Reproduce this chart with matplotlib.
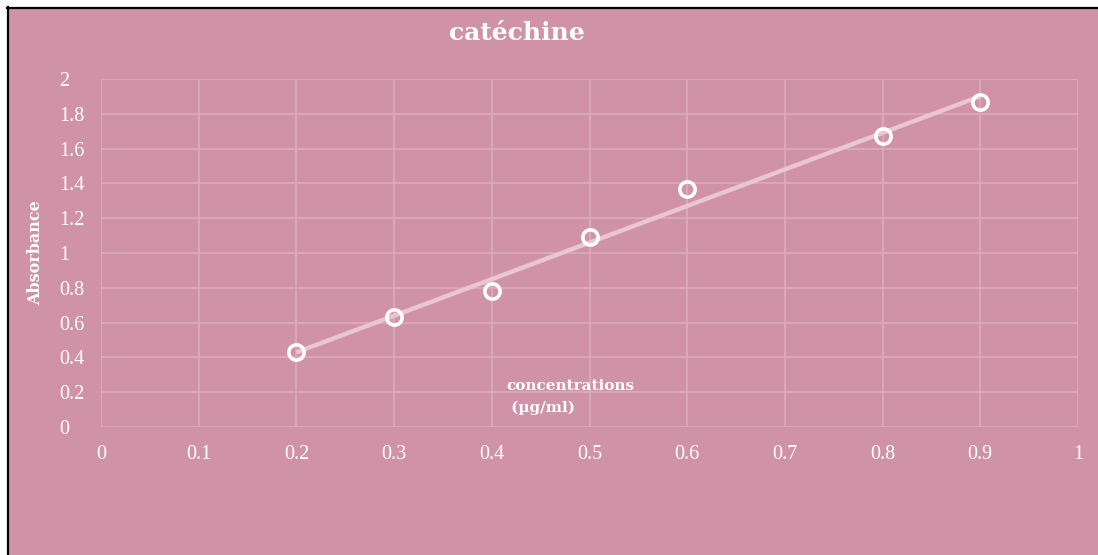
import numpy as np
import matplotlib
matplotlib.use("Agg")
import matplotlib.pyplot as plt
from matplotlib.patches import Rectangle
from matplotlib.lines import Line2D

# Calibration data for catechin
concentrations = [0.2, 0.3, 0.4, 0.5, 0.6, 0.8, 0.9]
absorbance = [0.43, 0.63, 0.78, 1.09, 1.37, 1.67, 1.87]
x_ticks = [0, 0.1, 0.2, 0.3, 0.4, 0.5, 0.6, 0.7, 0.8, 0.9, 1]
y_ticks = [0, 0.2, 0.4, 0.6, 0.8, 1, 1.2, 1.4, 1.6, 1.8, 2]

BG = "#D092A6"
GRID = "#DCACBC"
TREND = "#E9C6D2"
FONT = "Liberation Serif"
LABEL_FONT = "DejaVu Serif"

W, H = 1098, 555
fig = plt.figure(figsize=(W / 100, H / 100), dpi=100, facecolor="white")

# Pink panel with black top/left frame
fig.patches.append(Rectangle((8 / W, 0), 1 - 8 / W, 1 - 8 / H,
                             transform=fig.transFigure, facecolor=BG,
                             edgecolor="none", zorder=-5))
fig.lines.append(Line2D([7.5 / W, 7.5 / W], [0, 1 - 7 / H], transform=fig.transFigure,
                        color="black", lw=1.6, zorder=-4))
fig.lines.append(Line2D([7 / W, 1097 / W], [1 - 7.5 / H, 1 - 7.5 / H], transform=fig.transFigure,
                        color="black", lw=1.6, zorder=-4))

ax = fig.add_axes([101 / W, 128 / H, (1078 - 101) / W, (476 - 128) / H])
ax.set_zorder(2)
ax.set_facecolor("none")
ax.set_xlim(0, 1)
ax.set_ylim(0, 2)
ax.set_xticks(x_ticks)
ax.set_yticks(y_ticks)
ax.set_xticklabels([f"{v:g}" for v in x_ticks])
ax.set_yticklabels([f"{v:g}" for v in y_ticks])
for s in ax.spines.values():
    s.set_visible(False)
ax.grid(True, color=GRID, lw=1.2)
ax.set_axisbelow(True)
ax.tick_params(length=0, colors="white", labelsize=14.5)
ax.tick_params(axis="y", pad=30)
ax.tick_params(axis="x", pad=13)
for lab in ax.get_yticklabels():
    lab.set_horizontalalignment("left")
    lab.set_fontfamily(FONT)
for lab in ax.get_xticklabels():
    lab.set_fontfamily(FONT)

# Linear trendline fitted over the measured range
slope, intercept = np.polyfit(concentrations, absorbance, 1)
xs = np.array([min(concentrations), max(concentrations)])
ax.plot(xs, slope * xs + intercept, color=TREND, lw=3.2, solid_capstyle="butt", zorder=2)

ax.plot(concentrations, absorbance, linestyle="none", marker="o", markersize=11,
        markerfacecolor="none", markeredgecolor="white", markeredgewidth=2.6, zorder=3)

fig.text(517 / W, 1 - 33 / H, "catéchine", ha="center", va="center",
         fontsize=18, fontweight="bold", color="white", fontfamily=LABEL_FONT)
fig.text(36 / W, 1 - 253 / H, "Absorbance", ha="center", va="center", rotation=90,
         fontsize=11.5, fontweight="bold", color="white", fontfamily=LABEL_FONT)
fig.text(506 / W, 1 - 397 / H, "concentrations\n (µg/ml)", ha="left", va="center",
         fontsize=11, fontweight="bold", color="white", fontfamily=LABEL_FONT,
         linespacing=1.75)

fig.savefig("out.png", dpi=100, facecolor=fig.get_facecolor())
